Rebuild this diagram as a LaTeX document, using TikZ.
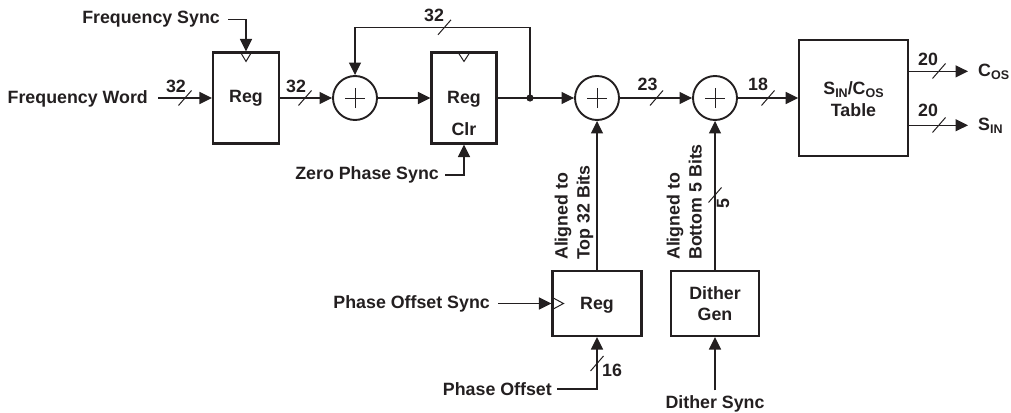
\documentclass[tikz,border=0pt]{standalone}
\usepackage{fontspec}
\setmainfont{Liberation Sans}
\usetikzlibrary{arrows.meta}
\definecolor{ink}{HTML}{231F20}
\newcommand\sbs[1]{\raisebox{-3pt}{\fontsize{12.5}{12.5}\selectfont #1}}
\begin{document}
\begin{tikzpicture}[x=1pt,y=-1pt,
  every node/.style={font=\fontsize{17.8}{21}\selectfont\bfseries, text=ink},
  lbl/.style={inner sep=0pt},
  blk/.style={draw=ink, line width=2.1pt, inner sep=0pt, align=center},
  adder/.style={draw=ink, circle, line width=1.9pt, minimum size=44pt, inner sep=0pt,
    path picture={\draw[ink, line width=0.9pt]
      ([xshift=-10pt]path picture bounding box.center) -- ([xshift=10pt]path picture bounding box.center)
      ([yshift=-10pt]path picture bounding box.center) -- ([yshift=10pt]path picture bounding box.center);}},
  wire/.style={draw=ink, line width=1.3pt},
  arr/.style={wire, -{Triangle[length=12.5pt,width=12pt]}},
  clk/.style={draw=ink, line width=1pt},
  buss/.pic={\draw[ink, line width=1pt] (-6.5,7.5) -- (6.5,-7.5);}
]
\useasboundingbox (0,0) rectangle (1011,412);

% blocks
\node[blk, minimum width=66pt, minimum height=91pt] (reg1) at (246,98) {Reg};
\node[adder] (a1) at (355,98) {};
\node[blk, minimum width=65pt, minimum height=91pt] (reg2) at (464,98) {};
\node[lbl, anchor=base] (reg2a) at (464,103.3) {Reg};
\node[lbl, anchor=base] (reg2b) at (464,135) {Clr};
\node[adder] (a2) at (597,98) {};
\node[adder] (a3) at (715,98) {};
\node[blk, minimum width=108.5pt, minimum height=115.7pt] (tab) at (853.5,98) {};
\node[lbl, anchor=base] (tabA) at (853.5,94.3) {S\sbs{IN}/C\sbs{OS}};
\node[lbl, anchor=base] (tabB) at (853.5,116.7) {Table};
\node[blk, minimum width=89pt, minimum height=65pt] (reg3) at (597,303.5) {};
\node[lbl, anchor=base] (reg3t) at (597,309.3) {Reg};
\node[blk, minimum width=88pt, minimum height=65pt] (dg) at (715,303.5) {};
\node[lbl, anchor=base] (dgA) at (715,299.3) {Dither};
\node[lbl, anchor=base] (dgB) at (715,320.7) {Gen};

% clock marks
\draw[clk] ([xshift=-6pt]reg1.north) -- ++(6,10) -- ++(6,-10);
\draw[clk] ([xshift=-6.5pt]reg2.north) -- ++(6.5,10) -- ++(6.5,-10);
\draw[clk] ([yshift=6.5pt]reg3.west) -- ++(12,6.5) -- ++(-12,6.5);

% text labels
\node[lbl, anchor=base east] (fw) at (148,103) {Frequency Word};
\node[lbl, anchor=base east] (fs) at (220,24) {Frequency Sync};
\node[lbl, anchor=base east] (zps) at (439,179.5) {Zero Phase Sync};
\node[lbl, anchor=base east] (pos) at (490,308.3) {Phase Offset Sync};
\node[lbl, anchor=base east] (po) at (552,395.5) {Phase Offset};
\node[lbl, anchor=base] (ds) at (715,408.5) {Dither Sync};
\node[lbl, anchor=base west] (cos) at (978,76) {C\sbs{OS}};
\node[lbl, anchor=base west] (sin) at (978,130) {S\sbs{IN}};
\node[lbl, anchor=base west, rotate=90] (al1) at (567.5,260) {Aligned to};
\node[lbl, anchor=base west, rotate=90] (al2) at (589.5,260) {Top 32 Bits};
\node[lbl, anchor=base west, rotate=90] (al3) at (679.5,260) {Aligned to};
\node[lbl, anchor=base west, rotate=90] (al4) at (701.5,260) {Bottom 5 Bits};

% bus widths
\node[lbl, anchor=base] (w1) at (176,92.5) {32};
\node[lbl, anchor=base] (w2) at (296,92.5) {32};
\node[lbl, anchor=base] (w3) at (434,21.7) {32};
\node[lbl, anchor=base] (w4) at (647.5,90) {23};
\node[lbl, anchor=base] (w5) at (758,90.7) {18};
\node[lbl, anchor=base] (w6) at (928,65.7) {20};
\node[lbl, anchor=base] (w7) at (928,116.7) {20};
\node[lbl, anchor=base west] (w8) at (602,376.7) {16};
\node[lbl, anchor=base west, rotate=90] (w9) at (729,208.5) {5};

% junction
\coordinate (fbk) at (442,27.3);
\fill[ink] (530,98) circle (3.6pt) coordinate (dot);

% connectors
\draw[arr] ([xshift=10pt]fw.east |- reg1.west) -- (reg1.west);
\draw[arr] ([xshift=8pt]fs.east) -| (reg1.north);
\draw[arr] (reg1.east) -- (a1.west);
\draw[arr] (a1.east) -- (reg2.west);
\draw[wire] (reg2.east) -- (dot);
\draw[arr] (dot) -- (a2.west);
\draw[arr] (dot) |- (fbk) -| (a1.north);
\draw[arr] ([xshift=6pt]zps.east) -| (reg2.south);
\draw[arr] (a2.east) -- (a3.west);
\draw[arr] (a3.east) -- (tab.west);
\draw[arr] (tab.east |- cos.west) -- ([xshift=-10pt]cos.west);
\draw[arr] (tab.east |- sin.west) -- ([xshift=-10pt]sin.west);
\draw[arr] (reg3.north) -- (a2.south);
\draw[arr] (dg.north) -- (a3.south);
\draw[arr] ([xshift=8pt]pos.east |- reg3.west) -- (reg3.west);
\draw[arr] ([xshift=5pt]po.east) -| (reg3.south);
\draw[arr] ([yshift=5pt]ds.north) -- (dg.south);

% bus slashes
\pic at (185,98) {buss};
\pic at (305,98) {buss};
\pic at (444.5,27.3) {buss};
\pic at (656.5,98) {buss};
\pic at (768,98) {buss};
\pic at (939,71) {buss};
\pic at (939,125) {buss};
\pic at (597,363.5) {buss};
\pic at (715,195) {buss};
\end{tikzpicture}
\end{document}
